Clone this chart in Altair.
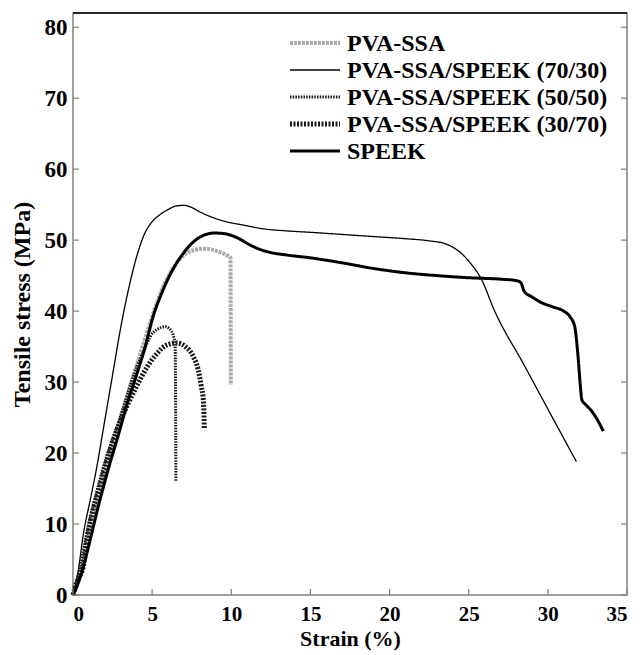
import altair as alt
import pandas as pd

# ---------------- data ----------------
names = ["PVA-SSA", "PVA-SSA/SPEEK (70/30)", "PVA-SSA/SPEEK (50/50)",
         "PVA-SSA/SPEEK (30/70)", "SPEEK"]

pva_x = [0, 0.3, 0.67, 1.0, 1.6, 2.2, 2.9, 3.5, 4.0, 4.5, 5.1, 5.6, 6.15, 6.7,
         7.2, 7.7, 8.2, 8.7, 9.3, 9.7, 9.95, 9.97]
pva_y = [0, 1.8, 4.8, 7.8, 13.3, 18.5, 24.0, 28.6, 32.2, 35.7, 39.9, 42.9, 45.4,
         47.2, 48.2, 48.6, 48.8, 48.7, 48.3, 47.9, 47.5, 29.6]

b7030_x = [0, 0.3, 0.67, 1.1, 1.5, 2.0, 2.5, 3.0, 3.5, 4.0, 4.5, 5.0, 5.5, 6.0,
           6.5, 7.0, 7.5, 8.0, 8.7, 9.5, 10.8, 12.0, 13.5, 15, 17, 19, 21, 22.5,
           23.5, 24.5, 25.2, 25.8, 26.6, 28.5, 30.0, 31.8]
b7030_y = [0, 3.0, 8.8, 13.5, 18.0, 24.5, 31.0, 37.5, 43.0, 47.5, 50.8, 52.6,
           53.6, 54.3, 54.8, 54.9, 54.6, 54.0, 53.3, 52.7, 52.1, 51.6, 51.3, 51.1,
           50.8, 50.5, 50.2, 49.9, 49.5, 48.2, 46.5, 44.5, 40.2, 32.4, 26.2, 18.8]

b5050_x = [0, 0.3, 0.88, 1.93, 3.0, 4.04, 4.5, 4.88, 5.3, 5.84, 6.1, 6.36, 6.46,
           6.48, 6.5]
b5050_y = [0, 2.5, 8.8, 18.1, 25.2, 32.2, 34.5, 36.4, 37.4, 37.8, 37.5, 36.4,
           34.6, 28.0, 16.0]

b3070_x = [0, 0.3, 0.5, 0.65, 0.9, 1.72, 2.5, 3.0, 4.04, 4.7, 5.3, 5.9, 6.57,
           7.1, 7.6, 7.9, 8.1, 8.25, 8.3]
b3070_y = [0, 2.2, 3.0, 4.0, 8.0, 15.5, 21.5, 24.5, 29.5, 32.2, 34.0, 35.2, 35.5,
           35.0, 33.6, 31.8, 29.5, 27.0, 23.3]

speek_x = [0, 0.3, 0.67, 1.0, 1.6, 2.2, 2.9, 3.5, 3.9, 4.5, 5.1, 5.6, 6.15, 6.7,
           7.2, 7.8, 8.4, 8.9, 9.6, 10.4, 11.2, 11.8, 12.6, 13.5, 15, 17, 19, 21,
           23, 25, 27, 28.0, 28.3, 28.5, 29.0, 29.5, 30.3, 31.0, 31.4, 31.7,
           31.85, 31.94, 32.05, 32.15, 32.4, 32.7, 33.1, 33.5]
speek_y = [0, 1.5, 4.1, 7.0, 12.5, 17.5, 22.8, 27.5, 30.2, 34.5, 39.5, 42.5,
           45.2, 47.3, 48.8, 50.1, 50.8, 51.0, 50.9, 50.3, 49.3, 48.7, 48.2, 47.9,
           47.5, 46.8, 46.0, 45.4, 45.0, 44.7, 44.5, 44.3, 44.0, 42.8, 42.0, 41.3,
           40.6, 40.0, 39.2, 37.8, 35.0, 32.7, 29.5, 27.5, 26.8, 26.1, 24.8, 23.1]

x_ticks = [0, 5, 10, 15, 20, 25, 30, 35]
y_ticks = [0, 10, 20, 30, 40, 50, 60, 70, 80]

# ---------------- styling ----------------
colors = ["#ababab", "#000000", "#1a1a1a", "#1a1a1a", "#000000"]
dashes = [[3, 1], [1, 0], [1.5, 1.2], [2, 1.5], [1, 0]]
widths = [4, 1.3, 3, 5, 3]
FONT = "Liberation Serif"
W, H = 554, 582

rows = []
for name, xs, ys in zip(names,
                        [pva_x, b7030_x, b5050_x, b3070_x, speek_x],
                        [pva_y, b7030_y, b5050_y, b3070_y, speek_y]):
    for i, (a, b) in enumerate(zip(xs, ys)):
        rows.append({"series": name, "strain": a, "stress": b, "order": i})
df = pd.DataFrame(rows)

color_enc = alt.Color("series:N", scale=alt.Scale(domain=names, range=colors), legend=None)
dash_enc = alt.StrokeDash("series:N", scale=alt.Scale(domain=names, range=dashes), legend=None)
width_enc = alt.StrokeWidth("series:N", scale=alt.Scale(type="ordinal", domain=names, range=widths),
                            legend=None)

xscale = alt.Scale(domain=[0, 35], nice=False)
yscale = alt.Scale(domain=[0, 82], nice=False)

lines = alt.Chart(df).mark_line(strokeJoin="round", interpolate="monotone").encode(
    x=alt.X("strain:Q", scale=xscale, title="Strain (%)",
            axis=alt.Axis(values=x_ticks, ticks=False, domain=False, grid=False,
                          labelPadding=8, titlePadding=4, labelFontSize=21,
                          titleFontSize=22)),
    y=alt.Y("stress:Q", scale=yscale, title="Tensile stress (MPa)",
            axis=alt.Axis(values=y_ticks, ticks=False, domain=False, grid=False,
                          labelPadding=6, titlePadding=10)),
    color=color_enc, strokeDash=dash_enc, strokeWidth=width_enc,
    order="order:Q", detail="series:N",
)

# inward ticks
xt = pd.DataFrame({"t": x_ticks})
yt = pd.DataFrame({"t": y_ticks})
xtick_rules = alt.Chart(xt).mark_rule(color="#808080", strokeWidth=1.2).encode(
    x=alt.X("t:Q", scale=xscale, axis=None), y=alt.value(H), y2=alt.value(H - 6))
ytick_left = alt.Chart(yt).mark_rule(color="#808080", strokeWidth=1.2).encode(
    y=alt.Y("t:Q", scale=yscale, axis=None), x=alt.value(0), x2=alt.value(6))
ytick_right = alt.Chart(yt).mark_rule(color="#808080", strokeWidth=1.2).encode(
    y=alt.Y("t:Q", scale=yscale, axis=None), x=alt.value(W), x2=alt.value(W - 6))
top_line = alt.Chart(pd.DataFrame({"a": [0]})).mark_rule(color="black", strokeWidth=1.5).encode(
    x=alt.value(0), x2=alt.value(W), y=alt.value(0))

# legend (built from the series names)
leg = pd.DataFrame({"series": names, "idx": list(range(len(names)))})
leg_y = alt.Y("idx:Q", scale=alt.Scale(domain=[0, 4], range=[30, 138]), axis=None)
leg_rules = alt.Chart(leg).mark_rule().encode(
    x=alt.value(217), x2=alt.value(267), y=leg_y,
    color=color_enc, strokeDash=dash_enc, strokeWidth=width_enc)
leg_text = alt.Chart(leg).mark_text(align="left", baseline="middle", font=FONT,
                                    fontWeight="bold", fontSize=24, color="black",
                                    dy=1).encode(
    x=alt.value(274), y=leg_y, text="series:N")

chart = alt.layer(
    lines, xtick_rules, ytick_left, ytick_right, top_line, leg_rules, leg_text
).resolve_scale(y="independent", x="independent").properties(
    width=W, height=H,
    autosize=alt.AutoSizeParams(type="none"),
    padding={"left": 73, "top": 13, "right": 13, "bottom": 60},
    background="white",
).configure_view(stroke="#808080", strokeWidth=1.5).configure_axis(
    labelFont=FONT, titleFont=FONT, labelFontWeight="bold", titleFontWeight="bold",
    labelFontSize=23, titleFontSize=24, labelColor="black", titleColor="black",
)

chart.save("out.html", embed_options={"renderer": "svg", "actions": False})
